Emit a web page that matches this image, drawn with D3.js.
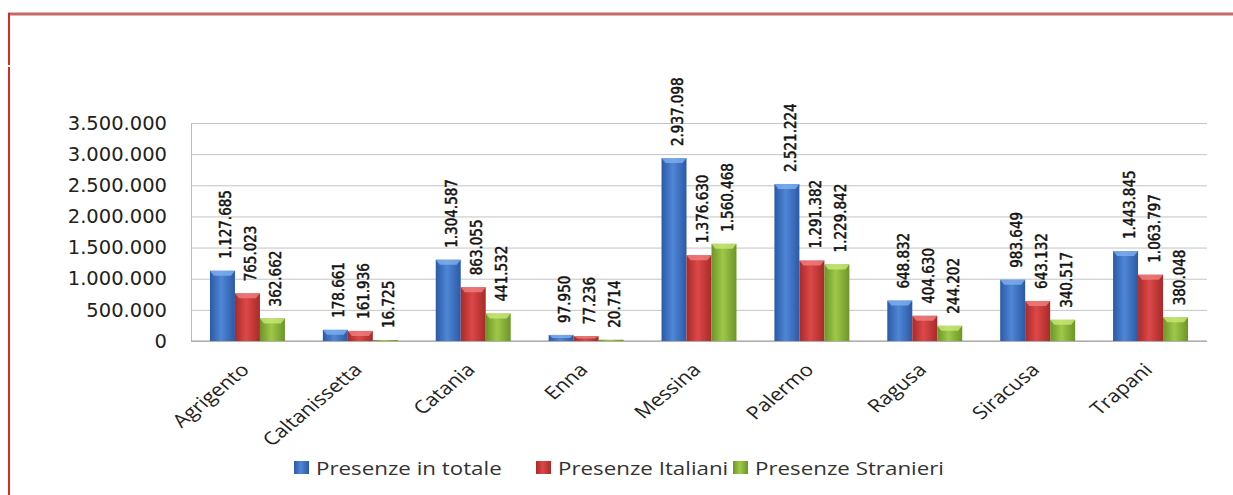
<!DOCTYPE html>
<html><head><meta charset="utf-8">
<script src="https://cdn.jsdelivr.net/npm/d3@7"></script>
<style>body{margin:0;background:#fff}svg{display:block}</style>
</head><body>
<script>
const categories = ["Agrigento","Caltanissetta","Catania","Enna","Messina","Palermo","Ragusa","Siracusa","Trapani"];
const seriesNames = ["Presenze in totale","Presenze Italiani","Presenze Stranieri"];
const totale = [1127685,178661,1304587,97950,2937098,2521224,648832,983649,1443845];
const italiani = [765023,161936,863055,77236,1376630,1291382,404630,643132,1063797];
const stranieri = [362662,16725,441532,20714,1560468,1229842,244202,340517,380048];
const yTicks = [0,500000,1000000,1500000,2000000,2500000,3000000,3500000];

const W=1233,H=495;
const svg=d3.select("body").append("svg").attr("width",W).attr("height",H);
const defs=svg.append("defs");
const pal=[["#2b5aa6","#4f86d6","#2b5aa6"],["#a82a2a","#dc4848","#a82a2a"],["#6c9526","#9fc84a","#6c9526"]];
pal.forEach((p,i)=>{
  const g=defs.append("linearGradient").attr("id","g"+i).attr("x1","0").attr("x2","1").attr("y1","0").attr("y2","0");
  g.append("stop").attr("offset","0").attr("stop-color",p[0]);
  g.append("stop").attr("offset","0.45").attr("stop-color",p[1]);
  g.append("stop").attr("offset","1").attr("stop-color",p[2]);
});
const capCol=["#7fb0f0","#f08080","#c8e878"];

// frame
svg.append("line").attr("x1",8).attr("x2",W).attr("y1",14).attr("y2",14).attr("stroke","#c46a6a").attr("stroke-width",3);
svg.append("line").attr("x1",9).attr("x2",9).attr("y1",13).attr("y2",H).attr("stroke","#d42a2a").attr("stroke-width",2);
svg.append("rect").attr("x",7).attr("y",65).attr("width",4).attr("height",2).attr("fill","#fff");

const pLeft=191,pRight=1207,pTop=123,pBottom=341;
const x=d3.scaleBand().domain(categories).range([pLeft,pRight]).paddingInner(0.336).paddingOuter(0.168);
const xs=d3.scaleBand().domain(seriesNames).range([0,x.bandwidth()]);
const y=d3.scaleLinear().domain([0,3500000]).range([pBottom,pTop]);
const fmt=v=>d3.format(",")(v).replace(/,/g,".");

// grid
const gAxis=svg.append("g").attr("transform",`translate(${pLeft},0)`)
  .call(d3.axisLeft(y).tickValues(yTicks).tickSize(-(pRight-pLeft)).tickPadding(24).tickFormat(fmt));
gAxis.select(".domain").attr("stroke","#bdbdbd");
gAxis.selectAll(".tick line").attr("stroke","#c4c4c4");
gAxis.selectAll(".tick text").attr("font-family","DejaVu Sans").attr("font-size",19.5).attr("fill","#222");
svg.append("line").attr("x1",pLeft).attr("x2",pRight).attr("y1",pBottom).attr("y2",pBottom).attr("stroke","#999");

const series=[totale,italiani,stranieri];
series.forEach((vals,si)=>{
  const g=svg.append("g");
  categories.forEach((c,ci)=>{
    const bx=x(c)+xs(seriesNames[si]), bw=xs.bandwidth(), by=y(vals[ci]), bh=pBottom-by;
    g.append("rect").attr("x",bx).attr("y",by).attr("width",bw).attr("height",bh)
      .attr("fill",`url(#g${si})`);
    if(bh>3){
      const ch=Math.min(5,bh/2);
      g.append("path").attr("d",`M${bx},${by}L${bx+bw},${by}L${bx+bw-4},${by+ch}L${bx+4},${by+ch}Z`).attr("fill",capCol[si]).attr("opacity",0.8);
    }
    g.append("text").attr("transform",`translate(${bx+bw/2+9},${by-12}) rotate(-90) scale(1,1.08)`)
      .attr("font-family","DejaVu Sans Condensed").attr("font-size",15)
      .attr("fill","#111").attr("stroke","#111").attr("stroke-width",0.45).text(fmt(vals[ci]));
  });
});

// category labels
categories.forEach(c=>{
  svg.append("text").attr("transform",`translate(${x(c)+x.bandwidth()/2+3},${pBottom+30}) scale(1.2,1) rotate(-45)`)
    .attr("text-anchor","end").attr("font-family","Open Sans").attr("font-size",18).attr("fill","#222").text(c);
});

// legend
const legX=[294,536,733];
seriesNames.forEach((s,i)=>{
  svg.append("rect").attr("x",legX[i]).attr("y",461).attr("width",15).attr("height",13).attr("fill",`url(#g${i})`);
  svg.append("text").attr("transform",`translate(${legX[i]+22},475) scale(1.24,1)`)
    .attr("font-family","Open Sans").attr("font-size",18).attr("fill","#333").text(s);
});
</script>
</body></html>
